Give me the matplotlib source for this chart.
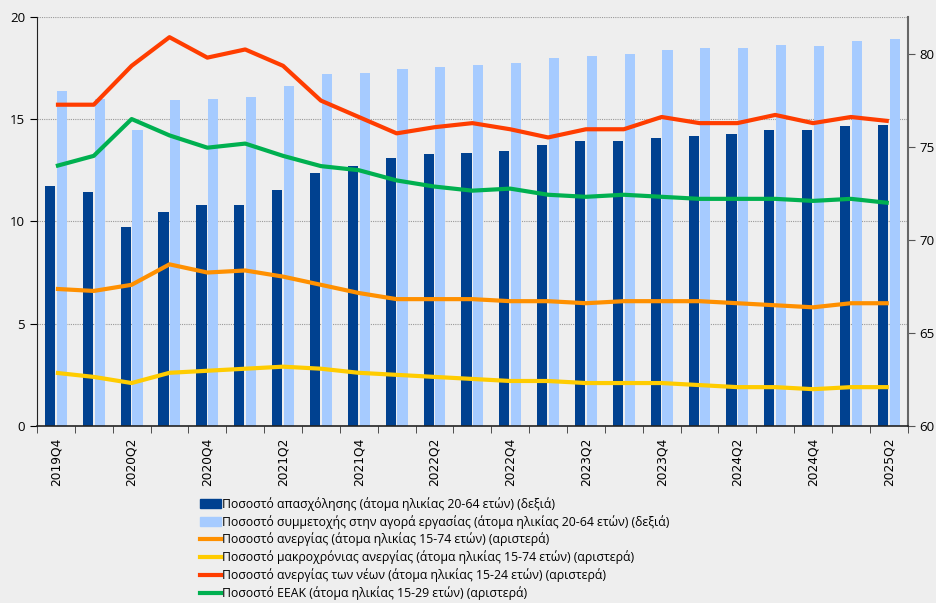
import numpy as np
import matplotlib.pyplot as plt
from matplotlib.patches import Patch
from matplotlib.lines import Line2D

quarters = ["2019Q4", "2020Q1", "2020Q2", "2020Q3", "2020Q4", "2021Q1", "2021Q2", "2021Q3",
            "2021Q4", "2022Q1", "2022Q2", "2022Q3", "2022Q4", "2023Q1", "2023Q2", "2023Q3",
            "2023Q4", "2024Q1", "2024Q2", "2024Q3", "2024Q4", "2025Q1", "2025Q2"]

# right axis (bars)
employment = [72.9, 72.6, 70.7, 71.5, 71.9, 71.9, 72.7, 73.6, 74.0, 74.4, 74.6, 74.7,
              74.8, 75.1, 75.3, 75.3, 75.5, 75.6, 75.7, 75.9, 75.9, 76.1, 76.2]
participation = [78.0, 77.6, 75.9, 77.5, 77.6, 77.7, 78.3, 78.9, 79.0, 79.2, 79.3, 79.4,
                 79.5, 79.8, 79.9, 80.0, 80.2, 80.3, 80.3, 80.5, 80.4, 80.7, 80.8]

# left axis (lines)
unemployment = [6.7, 6.6, 6.9, 7.9, 7.5, 7.6, 7.3, 6.9, 6.5, 6.2, 6.2, 6.2,
                6.1, 6.1, 6.0, 6.1, 6.1, 6.1, 6.0, 5.9, 5.8, 6.0, 6.0]
long_term = [2.6, 2.4, 2.1, 2.6, 2.7, 2.8, 2.9, 2.8, 2.6, 2.5, 2.4, 2.3,
             2.2, 2.2, 2.1, 2.1, 2.1, 2.0, 1.9, 1.9, 1.8, 1.9, 1.9]
youth = [15.7, 15.7, 17.6, 19.0, 18.0, 18.4, 17.6, 15.9, 15.1, 14.3, 14.6, 14.8,
         14.5, 14.1, 14.5, 14.5, 15.1, 14.8, 14.8, 15.2, 14.8, 15.1, 14.9]
neet = [12.7, 13.2, 15.0, 14.2, 13.6, 13.8, 13.2, 12.7, 12.5, 12.0, 11.7, 11.5,
        11.6, 11.3, 11.2, 11.3, 11.2, 11.1, 11.1, 11.1, 11.0, 11.1, 10.9]

labels = ["Ποσοστό απασχόλησης (άτομα ηλικίας 20-64 ετών) (δεξιά)",
          "Ποσοστό συμμετοχής στην αγορά εργασίας (άτομα ηλικίας 20-64 ετών) (δεξιά)",
          "Ποσοστό ανεργίας (άτομα ηλικίας 15-74 ετών) (αριστερά)",
          "Ποσοστό μακροχρόνιας ανεργίας (άτομα ηλικίας 15-74 ετών) (αριστερά)",
          "Ποσοστό ανεργίας των νέων (άτομα ηλικίας 15-24 ετών) (αριστερά)",
          "Ποσοστό ΕΕΑΚ (άτομα ηλικίας 15-29 ετών) (αριστερά)"]

c_dark = "#004190"
c_light = "#A6CBFF"
c_orange = "#FF9000"
c_yellow = "#FFCC00"
c_red = "#FF3D00"
c_green = "#00B050"
bg = "#EEEEEE"

fig = plt.figure(figsize=(9.36, 6.03), dpi=100, facecolor=bg)
ax = fig.add_axes([0.0395, 0.2935, 0.9303, 0.6788])
ax2 = ax.twinx()
ax.set_zorder(ax2.get_zorder() + 1)
ax.patch.set_visible(False)
ax2.set_facecolor(bg)

x = np.arange(len(quarters))
w = 0.27
ax2.bar(x - 0.155, employment, w, color=c_dark, zorder=2)
ax2.bar(x + 0.155, participation, w, color=c_light, zorder=2)
ax2.set_ylim(60, 82)
ax2.set_yticks([60, 65, 70, 75, 80])

# gridlines at the left axis ticks
for v in [5, 10, 15, 20]:
    ax2.axhline(60 + v * 22 / 20, color="#999999", lw=0.8, ls=(0, (1, 1)), zorder=1)

for vals, col in [(unemployment, c_orange), (long_term, c_yellow), (youth, c_red), (neet, c_green)]:
    ax.plot(x, vals, color=col, lw=3, solid_joinstyle="round", solid_capstyle="butt")

ax.set_ylim(0, 20)
ax.set_yticks([0, 5, 10, 15, 20])
ax.set_xlim(-0.5, len(quarters) - 0.5)
ax.set_xticks(x[::2])
ax.set_xticklabels(quarters[::2], rotation=90, fontsize=8.8)
ax.set_xticks(np.arange(-0.5, len(quarters)), minor=True)
ax.tick_params(axis="x", which="major", length=0, pad=8)
ax.tick_params(axis="x", which="minor", length=5, direction="out", color="#333333")
ax.tick_params(axis="y", length=5, labelsize=9.5)
ax2.tick_params(axis="y", length=5, labelsize=9.5, color="#555555")
for a in (ax, ax2):
    for lab in a.get_yticklabels():
        lab.set_family(["Open Sans", "DejaVu Sans"])

for a in (ax, ax2):
    a.spines["top"].set_visible(False)
ax.spines["right"].set_visible(False)
ax2.spines["left"].set_visible(False)
ax2.spines["bottom"].set_visible(False)
ax2.spines["right"].set_color("#666666")
ax2.spines["right"].set_linewidth(1.5)
ax.spines["left"].set_color("#222222")
ax.spines["bottom"].set_color("#222222")
ax.spines["bottom"].set_linewidth(1.2)

handles = [Patch(color=c_dark), Patch(color=c_light),
           Line2D([], [], color=c_orange, lw=3), Line2D([], [], color=c_yellow, lw=3),
           Line2D([], [], color=c_red, lw=3), Line2D([], [], color=c_green, lw=3)]
fig.legend(handles, labels, loc="upper left", bbox_to_anchor=(0.2137, 0.176), frameon=False,
           prop={"family": ["Open Sans", "DejaVu Sans"], "size": 8.8}, handlelength=1.7,
           handletextpad=0.1, labelspacing=0.33, borderpad=0, borderaxespad=0)

fig.savefig("out.png", dpi=100, facecolor=bg)
